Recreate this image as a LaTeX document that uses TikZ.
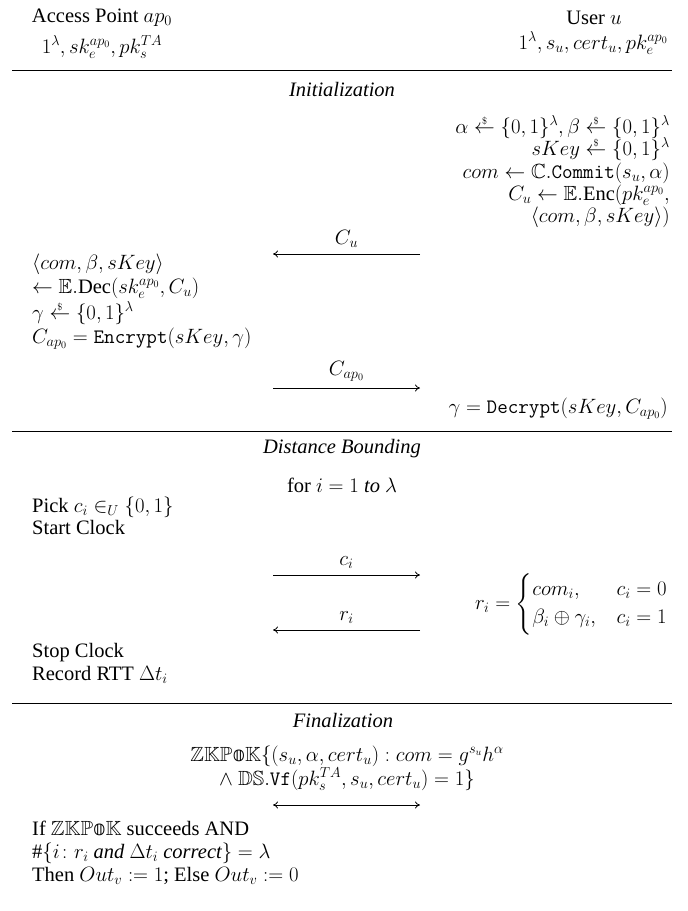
\documentclass[tikz,border=0pt]{standalone}
\usepackage{amsmath,amssymb}
\usepackage{fontspec}
\setmainfont{Liberation Serif}
\newfontfamily\dsfont{DejaVu Sans}
\usetikzlibrary{arrows.meta}
\newcommand{\smp}{\mathrel{\ooalign{$\leftarrow$\cr\hfil\raisebox{0.95ex}{$\scriptscriptstyle\$$}\hfil\cr}}}
\newcommand{\zkpok}{\mathbb{ZKP}\text{\dsfont 𝕠}\mathbb{K}}
\begin{document}
\begin{tikzpicture}[x=1pt,y=-1pt,
  txt/.style={font=\fontsize{20.5}{23}\selectfont, inner sep=0pt},
  lft/.style={txt, anchor=mid west},
  rgt/.style={txt, anchor=mid east},
  ttl/.style={txt, font=\fontsize{20.5}{23}\selectfont\itshape},
  msg/.style={-{To[length=5pt,width=7pt]}, line width=0.8pt},
  dmsg/.style={{To[length=5pt,width=7pt]}-{To[length=5pt,width=7pt]}, line width=0.8pt},
  sep/.style={line width=0.8pt},
  lbl/.style={txt, above=6pt, midway}]
\useasboundingbox (0,0) rectangle (688,911);
% header
\node[txt] (ap) at (102,18) {Access Point $ap_0$};
\node[txt] (apin) at (102,47) {$1^\lambda, sk_e^{ap_0}, pk_s^{TA}$};
\node[txt] (user) at (594,18) {User $u$};
\node[rgt] (uin) at (668,47) {$1^\lambda, s_u, cert_u, pk_e^{ap_0}$};
\draw[sep] (12,70) -- (672,70);
% initialization
\node[ttl] (init) at (342,89) {Initialization};
\node[rgt] (r1) at (670,131) {$\alpha \smp \{0,1\}^\lambda, \beta \smp \{0,1\}^\lambda$};
\node[rgt] (r2) at (670,153) {$sKey \smp \{0,1\}^\lambda$};
\node[rgt] (r3) at (670,176) {$com \leftarrow \mathbb{C}.\texttt{Commit}(s_u,\alpha)$};
\node[rgt] (r4) at (670,198) {$C_u \leftarrow \mathbb{E}.\mathrm{Enc}(pk_e^{ap_0},$};
\node[rgt] (r5) at (670,220) {$\langle com,\beta,sKey\rangle)$};
\coordinate (cuR) at (420,254);
\coordinate (cuL) at (273,254);
\draw[msg] (cuR) -- node[lbl] {$C_u$} (cuL);
\node[lft] (l1) at (32,267) {$\langle com,\beta,sKey\rangle$};
\node[lft] (l2) at (32,291) {$\leftarrow \mathbb{E}.\mathrm{Dec}(sk_e^{ap_0}, C_u)$};
\node[lft] (l3) at (32,317) {$\gamma \smp \{0,1\}^\lambda$};
\node[lft] (l4) at (32,341) {$C_{ap_0} = \texttt{Encrypt}(sKey,\gamma)$};
\coordinate (caL) at (273,388);
\coordinate (caR) at (420,388);
\draw[msg] (caL) -- node[lbl] {$C_{ap_0}$} (caR);
\node[rgt] (dec) at (668,411) {$\gamma = \texttt{Decrypt}(sKey, C_{ap_0})$};
\draw[sep] (12,431) -- (672,431);
% distance bounding
\node[ttl] (db) at (342,449) {Distance Bounding};
\node[txt] (loop) at (342,485) {for $i = 1$ \textit{to} $\lambda$};
\node[lft] (pick) at (32,510) {Pick $c_i \in_U \{0,1\}$};
\node[lft] (start) at (32,532) {Start Clock};
\coordinate (ciL) at (273,575);
\coordinate (ciR) at (420,575);
\draw[msg] (ciL) -- node[lbl] {$c_i$} (ciR);
\node[txt, anchor=east] (resp) at (668,604) {$r_i = \begin{cases} com_i, & c_i = 0\\ \beta_i \oplus \gamma_i, & c_i = 1\end{cases}$};
\coordinate (riR) at (420,630);
\coordinate (riL) at (273,630);
\draw[msg] (riR) -- node[lbl] {$r_i$} (riL);
\node[lft] (stop) at (32,655) {Stop Clock};
\node[lft] (rtt) at (32,678) {Record RTT $\Delta t_i$};
\draw[sep] (12,703) -- (672,703);
% finalization
\node[ttl] (fin) at (343,720) {Finalization};
\node[txt] (z1) at (347,756) {$\zkpok\{(s_u,\alpha,cert_u) : com = g^{s_u}h^{\alpha}$};
\node[txt] (z2) at (347,779) {$\wedge\ \mathbb{DS}.\texttt{Vf}(pk_s^{TA}, s_u, cert_u) = 1\}$};
\coordinate (zL) at (273,805);
\coordinate (zR) at (420,805);
\draw[dmsg] (zL) -- (zR);
\node[lft] (o1) at (32,833) {If $\zkpok$ succeeds AND};
\node[lft] (o2) at (32,856) {$\#\{i\colon r_i \textit{ and } \Delta t_i \textit{ correct}\} = \lambda$};
\node[lft] (o3) at (32,879) {Then $Out_v \mathrel{:=} 1$; Else $Out_v \mathrel{:=} 0$};
\end{tikzpicture}
\end{document}
